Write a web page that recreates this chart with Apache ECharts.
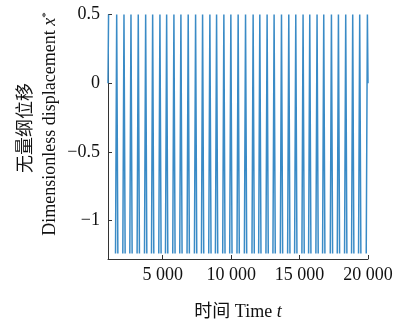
<!DOCTYPE html>
<html>
<head>
<meta charset="utf-8">
<script src="https://cdn.jsdelivr.net/npm/echarts@6/dist/echarts.min.js"></script>
<style>
html,body{margin:0;padding:0;background:#fff;}
#c{width:401px;height:326px;}
</style>
</head>
<body>
<div id="c"></div>
<script>
// ---- data ----
const tStart = 1000, tEnd = 20000;
const startSegment = [[1000, 0], [1040, 0.5]];
const endValue = 0;
const crestTimes = [1635, 2168, 2679, 3212, 3752, 4263, 4795, 5285, 5817, 6328,
  6861, 7401, 7912, 8445, 8934, 9467, 9978, 10511, 11051, 11606,
  12094, 12627, 13138, 13678, 14211, 14722, 15255, 15744, 16277, 16766,
  17328, 17839, 18372, 18883, 19394, 19956];
const crestValues = [0.5, 0.5, 0.5, 0.5, 0.5, 0.5, 0.5, 0.5, 0.5, 0.5,
  0.5, 0.5, 0.5, 0.5, 0.5, 0.5, 0.5, 0.5, 0.5, 0.5,
  0.5, 0.5, 0.5, 0.5, 0.5, 0.5, 0.5, 0.5, 0.5, 0.5,
  0.5, 0.5, 0.5, 0.5, 0.5, 0.5];
const troughValues = [-1.24, -1.24, -1.24, -1.24, -1.24, -1.24, -1.24, -1.24, -1.24, -1.24,
  -1.24, -1.24, -1.24, -1.24, -1.24, -1.24, -1.24, -1.24, -1.24, -1.24,
  -1.24, -1.24, -1.24, -1.24, -1.24, -1.24, -1.24, -1.24, -1.24, -1.24,
  -1.24, -1.24, -1.24, -1.24, -1.24, -1.24];
const edgeHalfWidth = 85; // time units between trough and crest on each edge
const xTicks = [5000, 10000, 15000, 20000];
const yTicks = [-1, -0.5, 0, 0.5];

// ---- build series ----
const seriesData = [];
startSegment.forEach(p => seriesData.push(p));
seriesData.push(null);
crestTimes.forEach((c, i) => {
  seriesData.push([c - edgeHalfWidth, troughValues[i]]);
  seriesData.push([c, crestValues[i]]);
  if (i === crestTimes.length - 1) {
    seriesData.push([tEnd, endValue]);
  } else {
    seriesData.push([c + edgeHalfWidth, troughValues[i]]);
    seriesData.push(null);
  }
});

const FONT = '"Liberation Serif", "Times New Roman", serif';
const CJK = '"Liberation Serif", "Noto Sans CJK SC", serif';
const fmtThousands = v => {
  const s = String(Math.round(v));
  return s.length > 3 ? s.slice(0, s.length - 3) + ' ' + s.slice(-3) : s;
};
const fmtMinus = v => (v < 0 ? '\u2212' + String(-v) : String(v));

const chart = echarts.init(document.getElementById('c'), null, {renderer: 'canvas'});
chart.setOption({
  animation: false,
  backgroundColor: '#fff',
  grid: {left: 108, right: 33, top: 14.5, bottom: 62.5, containLabel: false},
  xAxis: {
    type: 'value', min: tStart, max: tEnd,
    axisLine: {show: true, onZero: false, lineStyle: {color: '#333', width: 1}},
    axisTick: {show: true, inside: true, length: 4, customValues: xTicks, lineStyle: {color: '#333'}},
    axisLabel: {show: true, customValues: xTicks, formatter: fmtThousands, color: '#111',
      fontFamily: FONT, fontSize: 18, margin: 7},
    splitLine: {show: false},
    name: '时间 Time {i|t}', nameLocation: 'middle', nameGap: 44,
    nameTextStyle: {color: '#111', fontFamily: CJK, fontSize: 18,
      rich: {i: {fontStyle: 'italic', fontFamily: FONT, fontSize: 18, color: '#111'}}}
  },
  yAxis: {
    type: 'value', min: -1.28, max: 0.5,
    axisLine: {show: true, onZero: false, lineStyle: {color: '#333', width: 1}},
    axisTick: {show: true, inside: true, length: 4, customValues: yTicks, lineStyle: {color: '#333'}},
    axisLabel: {show: true, customValues: yTicks, formatter: fmtMinus, color: '#111',
      fontFamily: FONT, fontSize: 18, margin: 8},
    splitLine: {show: false}
  },
  graphic: [
    {type: 'text', x: 26, y: 128, rotation: Math.PI / 2,
      style: {text: '无量纲位移', fill: '#111', font: '18px ' + CJK, align: 'center', verticalAlign: 'middle'}},
    {type: 'text', x: 50, y: 124, rotation: Math.PI / 2,
      style: {text: 'Dimensionless displacement {i|x}{s|*}', fill: '#111', font: '18px ' + FONT,
        align: 'center', verticalAlign: 'middle',
        rich: {i: {fontStyle: 'italic', fontFamily: FONT, fontSize: 18, fill: '#111'},
               s: {fontFamily: FONT, fontSize: 11, fill: '#111', verticalAlign: 'top', lineHeight: 18}}}}
  ],
  series: [{
    type: 'line', data: seriesData, showSymbol: false, connectNulls: false,
    lineStyle: {color: '#3a8bc6', width: 1.5}, itemStyle: {color: '#3a8bc6'}
  }]
});
</script>
</body>
</html>
